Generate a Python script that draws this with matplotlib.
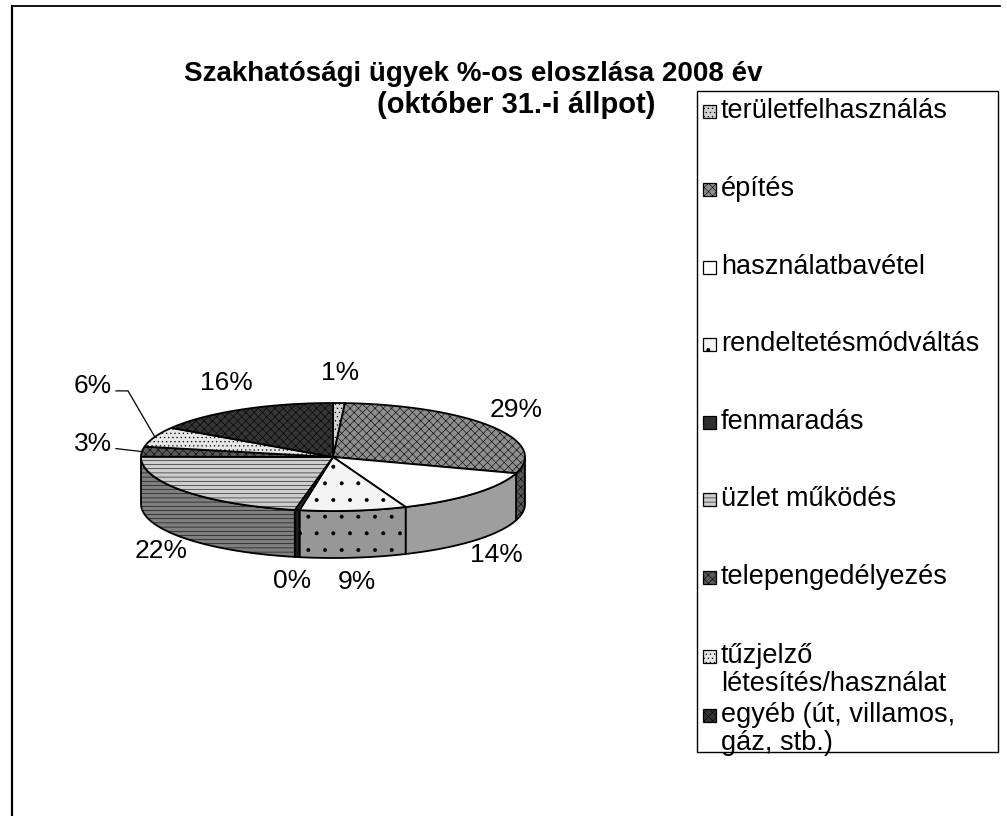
import numpy as np
import matplotlib.pyplot as plt
from matplotlib.patches import Polygon, Rectangle
from matplotlib.colors import to_rgb

plt.rcParams['font.family'] = ['Liberation Sans', 'DejaVu Sans']

# data (percent of cases)
categories = ['területfelhasználás', 'építés', 'használatbavétel',
              'rendeltetésmódváltás', 'fenmaradás', 'üzlet működés',
              'telepengedélyezés', 'tűzjelző\nlétesítés/használat',
              'egyéb (út, villamos,\ngáz, stb.)']
values = [1, 29, 14, 9, 0.4, 22, 3, 6, 16]
title_lines = ['Szakhatósági ügyek %-os eloszlása 2008 év',
               '(október 31.-i állpot)']

top_colors = ['#d2d2d2', '#8e8e8e', '#ffffff', '#f3f3f3', '#2e2e2e',
              '#cdcdcd', '#5a5a5a', '#e6e6e6', '#343434']
hatches = ['....', 'xxxx', None, '. ', None, '----', 'xxxx', '....', 'xxxx']

W, H = 1007, 816
fig = plt.figure(figsize=(W / 100, H / 100), dpi=100)
ax = fig.add_axes([0, 0, 1, 1])
ax.set_xlim(0, W)
ax.set_ylim(H, 0)
ax.axis('off')
plt.rcParams['hatch.linewidth'] = 0.4

# pie geometry (pixels)
cx, cy, rx, ry, depth = 333, 457, 192, 54, 47


def pt(t, dz=0.0):
    r = np.radians(t)
    return cx + rx * np.cos(r), cy - ry * np.sin(r) + dz


shares = np.array(values) / sum(values)
bounds = 90 - 360 * np.concatenate([[0], np.cumsum(shares)])

# side walls, front half only
for i in range(len(values)):
    lo, hi = max(bounds[i + 1], -180), min(bounds[i], 0)
    if hi <= lo:
        continue
    t = np.linspace(lo, hi, 80)
    xs, ys = pt(t)
    xb, yb = pt(t[::-1], depth)
    side = tuple(0.62 * c for c in to_rgb(top_colors[i]))
    ax.add_patch(Polygon(np.column_stack([np.r_[xs, xb], np.r_[ys, yb]]),
                         closed=True, fc=side, ec='black', lw=1.3,
                         hatch=hatches[i]))

# top faces
for i in range(len(values)):
    t = np.linspace(bounds[i], bounds[i + 1], 120)
    xs, ys = pt(t)
    poly = np.vstack([[cx, cy], np.column_stack([xs, ys])])
    ax.add_patch(Polygon(poly, closed=True, fc=top_colors[i], ec='black',
                         lw=1.3, hatch=hatches[i]))

# percentage labels
k = 0
for i in range(len(values)):
    mid = (bounds[i] + bounds[i + 1]) / 2
    c, s = np.cos(np.radians(mid)), np.sin(np.radians(mid))
    txt = f'{round(shares[i] * 100):.0f}%'
    if values[i] < 7 and c < -0.8:
        ex, ey = pt(mid)
        lx = cx - rx - 25
        ly = ey - 3 - 43 * k
        ax.plot([ex, lx + 12 if k else lx, lx], [ey, ly, ly],
                color='black', lw=0.9)
        ax.text(lx - 4, ly - 5, txt, ha='right', va='center', fontsize=19)
        k += 1
    else:
        x = cx + (rx + 30) * c
        y = cy - (ry + 30) * s + (depth - 6 if s < 0 else 0)
        ax.text(x, y, txt, ha='center', va='center', fontsize=19)

# title
ax.text(473, 74, title_lines[0], ha='center', va='center',
        fontsize=20, fontweight='bold')
ax.text(516, 105, title_lines[1], ha='center', va='center',
        fontsize=21, fontweight='bold')

# legend
ax.add_patch(Rectangle((697, 91), 301, 661, fc='white', ec='black', lw=1))
entry_y = [112, 190, 268, 345, 423, 500, 578, 657, 716]
for i, lab in enumerate(categories):
    y = entry_y[i]
    ax.add_patch(Rectangle((703, y - 7), 13, 13, fc=top_colors[i],
                           ec='black', lw=0.9, hatch=hatches[i]))
    ax.text(721, y - 14, lab, ha='left', va='top', fontsize=19.5,
            linespacing=1.08)

# outer frame (left and top edges visible in the scan)
ax.plot([12, 12], [H, 6], color='black', lw=1.6)
ax.plot([12, 1000], [6, 6], color='black', lw=1.3)

fig.savefig('out.png', dpi=100)
